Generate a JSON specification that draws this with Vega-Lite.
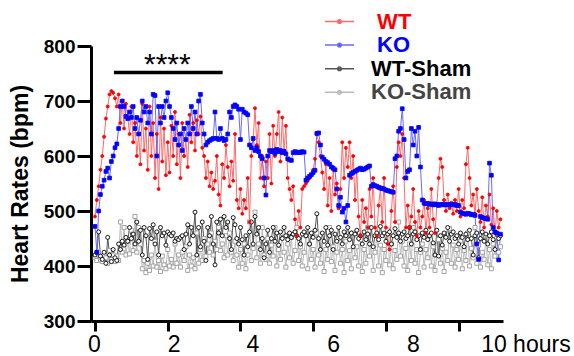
{
"$schema": "https://vega.github.io/schema/vega-lite/v6.json",
"width": 412, "height": 275,
"autosize": {"type": "none"},
"padding": {"left": 91, "top": 46, "right": 71, "bottom": 35},
"config": {"view": {"stroke": null}, "font": "Liberation Sans"},
"datasets": {
"hr": [
{"t":0,"WT":490,"KO":472,"WS":420,"KS":415},
{"t":0.05,"WT":520,"KO":425,"WS":425,"KS":410},
{"t":0.1,"WT":545,"KO":500,"WS":462,"KS":425},
{"t":0.15,"WT":575,"KO":530,"WS":418,"KS":412},
{"t":0.2,"WT":600,"KO":545,"WS":412,"KS":408},
{"t":0.25,"WT":635,"KO":556,"WS":425,"KS":420},
{"t":0.3,"WT":668,"KO":572,"WS":405,"KS":415},
{"t":0.35,"WT":690,"KO":578,"WS":452,"KS":405},
{"t":0.4,"WT":712,"KO":560,"WS":420,"KS":428},
{"t":0.45,"WT":718,"KO":590,"WS":408,"KS":412},
{"t":0.5,"WT":715,"KO":600,"WS":430,"KS":420},
{"t":0.55,"WT":705,"KO":615,"WS":415,"KS":408},
{"t":0.6,"WT":690,"KO":622,"WS":410,"KS":418},
{"t":0.65,"WT":712,"KO":650,"WS":440,"KS":410},
{"t":0.7,"WT":660,"KO":690,"WS":430,"KS":480},
{"t":0.75,"WT":700,"KO":700,"WS":445,"KS":425},
{"t":0.8,"WT":650,"KO":690,"WS":438,"KS":470},
{"t":0.85,"WT":695,"KO":672,"WS":452,"KS":420},
{"t":0.9,"WT":672,"KO":668,"WS":445,"KS":445},
{"t":0.95,"WT":640,"KO":680,"WS":470,"KS":422},
{"t":1.0,"WT":690,"KO":670,"WS":450,"KS":465},
{"t":1.05,"WT":625,"KO":690,"WS":458,"KS":428},
{"t":1.1,"WT":660,"KO":650,"WS":440,"KS":490},
{"t":1.15,"WT":600,"KO":670,"WS":480,"KS":425},
{"t":1.2,"WT":640,"KO":640,"WS":445,"KS":470},
{"t":1.25,"WT":585,"KO":665,"WS":465,"KS":440},
{"t":1.3,"WT":695,"KO":700,"WS":420,"KS":395},
{"t":1.35,"WT":610,"KO":680,"WS":470,"KS":410},
{"t":1.4,"WT":650,"KO":690,"WS":455,"KS":388},
{"t":1.45,"WT":575,"KO":660,"WS":412,"KS":405},
{"t":1.5,"WT":690,"KO":680,"WS":468,"KS":392},
{"t":1.55,"WT":600,"KO":640,"WS":450,"KS":420},
{"t":1.6,"WT":660,"KO":712,"WS":475,"KS":400},
{"t":1.65,"WT":560,"KO":710,"WS":440,"KS":445},
{"t":1.7,"WT":640,"KO":600,"WS":462,"KS":398},
{"t":1.75,"WT":540,"KO":690,"WS":420,"KS":410},
{"t":1.8,"WT":670,"KO":660,"WS":470,"KS":390},
{"t":1.85,"WT":590,"KO":690,"WS":455,"KS":418},
{"t":1.9,"WT":650,"KO":670,"WS":460,"KS":402},
{"t":1.95,"WT":565,"KO":700,"WS":438,"KS":395},
{"t":2.0,"WT":625,"KO":715,"WS":462,"KS":430},
{"t":2.05,"WT":570,"KO":690,"WS":458,"KS":400},
{"t":2.1,"WT":655,"KO":670,"WS":455,"KS":412},
{"t":2.15,"WT":600,"KO":650,"WS":460,"KS":398},
{"t":2.2,"WT":680,"KO":630,"WS":445,"KS":440},
{"t":2.25,"WT":585,"KO":660,"WS":450,"KS":405},
{"t":2.3,"WT":640,"KO":620,"WS":448,"KS":420},
{"t":2.35,"WT":560,"KO":640,"WS":452,"KS":398},
{"t":2.4,"WT":660,"KO":610,"WS":455,"KS":425},
{"t":2.45,"WT":600,"KO":650,"WS":430,"KS":410},
{"t":2.5,"WT":630,"KO":630,"WS":458,"KS":435},
{"t":2.55,"WT":580,"KO":660,"WS":475,"KS":392},
{"t":2.6,"WT":675,"KO":640,"WS":440,"KS":420},
{"t":2.65,"WT":625,"KO":690,"WS":470,"KS":400},
{"t":2.7,"WT":660,"KO":650,"WS":455,"KS":415},
{"t":2.75,"WT":610,"KO":680,"WS":498,"KS":395},
{"t":2.8,"WT":665,"KO":640,"WS":420,"KS":460},
{"t":2.85,"WT":640,"KO":700,"WS":470,"KS":405},
{"t":2.9,"WT":672,"KO":712,"WS":435,"KS":430},
{"t":2.95,"WT":615,"KO":660,"WS":480,"KS":410},
{"t":3.0,"WT":600,"KO":640,"WS":445,"KS":450},
{"t":3.05,"WT":560,"KO":620,"WS":410,"KS":418},
{"t":3.1,"WT":590,"KO":625,"WS":470,"KS":440},
{"t":3.15,"WT":545,"KO":628,"WS":455,"KS":425},
{"t":3.2,"WT":570,"KO":630,"WS":490,"KS":460},
{"t":3.25,"WT":540,"KO":632,"WS":440,"KS":420},
{"t":3.3,"WT":555,"KO":680,"WS":402,"KS":445},
{"t":3.35,"WT":600,"KO":632,"WS":480,"KS":430},
{"t":3.4,"WT":530,"KO":630,"WS":460,"KS":470},
{"t":3.45,"WT":510,"KO":650,"WS":485,"KS":428},
{"t":3.5,"WT":585,"KO":632,"WS":455,"KS":440},
{"t":3.55,"WT":560,"KO":628,"WS":490,"KS":415},
{"t":3.6,"WT":620,"KO":630,"WS":470,"KS":455},
{"t":3.65,"WT":580,"KO":640,"WS":480,"KS":420},
{"t":3.7,"WT":545,"KO":680,"WS":450,"KS":460},
{"t":3.75,"WT":590,"KO":670,"WS":430,"KS":425},
{"t":3.8,"WT":555,"KO":690,"WS":488,"KS":410},
{"t":3.85,"WT":640,"KO":693,"WS":475,"KS":445},
{"t":3.9,"WT":520,"KO":690,"WS":450,"KS":420},
{"t":3.95,"WT":505,"KO":685,"WS":440,"KS":398},
{"t":4.0,"WT":540,"KO":630,"WS":470,"KS":430},
{"t":4.05,"WT":495,"KO":685,"WS":448,"KS":405},
{"t":4.1,"WT":520,"KO":680,"WS":420,"KS":440},
{"t":4.15,"WT":505,"KO":678,"WS":455,"KS":395},
{"t":4.2,"WT":560,"KO":675,"WS":435,"KS":420},
{"t":4.25,"WT":480,"KO":620,"WS":462,"KS":480},
{"t":4.3,"WT":600,"KO":615,"WS":480,"KS":410},
{"t":4.35,"WT":630,"KO":632,"WS":440,"KS":432},
{"t":4.4,"WT":687,"KO":610,"WS":490,"KS":498},
{"t":4.45,"WT":620,"KO":615,"WS":458,"KS":415},
{"t":4.5,"WT":660,"KO":608,"WS":470,"KS":440},
{"t":4.55,"WT":560,"KO":600,"WS":430,"KS":405},
{"t":4.6,"WT":600,"KO":595,"WS":450,"KS":470},
{"t":4.65,"WT":545,"KO":560,"WS":415,"KS":420},
{"t":4.7,"WT":590,"KO":529,"WS":440,"KS":412},
{"t":4.75,"WT":560,"KO":600,"WS":465,"KS":450},
{"t":4.8,"WT":640,"KO":610,"WS":425,"KS":405},
{"t":4.85,"WT":550,"KO":608,"WS":450,"KS":438},
{"t":4.9,"WT":655,"KO":610,"WS":470,"KS":418},
{"t":4.95,"WT":600,"KO":605,"WS":445,"KS":470},
{"t":5.0,"WT":640,"KO":612,"WS":460,"KS":400},
{"t":5.05,"WT":680,"KO":608,"WS":438,"KS":430},
{"t":5.1,"WT":590,"KO":610,"WS":462,"KS":412},
{"t":5.15,"WT":670,"KO":606,"WS":450,"KS":460},
{"t":5.2,"WT":610,"KO":608,"WS":470,"KS":425},
{"t":5.25,"WT":655,"KO":604,"WS":455,"KS":398},
{"t":5.3,"WT":560,"KO":595,"WS":448,"KS":440},
{"t":5.35,"WT":540,"KO":593,"WS":460,"KS":415},
{"t":5.4,"WT":520,"KO":592,"WS":452,"KS":452},
{"t":5.45,"WT":545,"KO":606,"WS":458,"KS":405},
{"t":5.5,"WT":485,"KO":608,"WS":462,"KS":428},
{"t":5.55,"WT":455,"KO":606,"WS":455,"KS":470},
{"t":5.6,"WT":500,"KO":607,"WS":450,"KS":410},
{"t":5.65,"WT":470,"KO":606,"WS":440,"KS":435},
{"t":5.7,"WT":540,"KO":608,"WS":458,"KS":400},
{"t":5.75,"WT":545,"KO":607,"WS":462,"KS":425},
{"t":5.8,"WT":550,"KO":556,"WS":455,"KS":455},
{"t":5.85,"WT":555,"KO":560,"WS":470,"KS":395},
{"t":5.9,"WT":560,"KO":563,"WS":440,"KS":440},
{"t":5.95,"WT":565,"KO":566,"WS":460,"KS":412},
{"t":6.0,"WT":575,"KO":570,"WS":452,"KS":430},
{"t":6.05,"WT":595,"KO":574,"WS":465,"KS":398},
{"t":6.1,"WT":640,"KO":641,"WS":495,"KS":460},
{"t":6.15,"WT":625,"KO":642,"WS":450,"KS":420},
{"t":6.2,"WT":600,"KO":620,"WS":430,"KS":405},
{"t":6.25,"WT":570,"KO":598,"WS":460,"KS":445},
{"t":6.3,"WT":540,"KO":594,"WS":445,"KS":390},
{"t":6.35,"WT":585,"KO":590,"WS":470,"KS":430},
{"t":6.4,"WT":510,"KO":588,"WS":438,"KS":412},
{"t":6.45,"WT":560,"KO":585,"WS":455,"KS":470},
{"t":6.5,"WT":500,"KO":580,"WS":465,"KS":408},
{"t":6.55,"WT":575,"KO":578,"WS":430,"KS":435},
{"t":6.6,"WT":530,"KO":575,"WS":458,"KS":392},
{"t":6.65,"WT":550,"KO":540,"WS":445,"KS":425},
{"t":6.7,"WT":505,"KO":510,"WS":470,"KS":450},
{"t":6.75,"WT":540,"KO":525,"WS":452,"KS":405},
{"t":6.8,"WT":625,"KO":498,"WS":440,"KS":430},
{"t":6.85,"WT":560,"KO":505,"WS":462,"KS":388},
{"t":6.9,"WT":615,"KO":480,"WS":455,"KS":445},
{"t":6.95,"WT":580,"KO":510,"WS":470,"KS":410},
{"t":7.0,"WT":625,"KO":565,"WS":448,"KS":428},
{"t":7.05,"WT":560,"KO":568,"WS":460,"KS":395},
{"t":7.1,"WT":600,"KO":570,"WS":435,"KS":460},
{"t":7.15,"WT":520,"KO":572,"WS":458,"KS":415},
{"t":7.2,"WT":575,"KO":574,"WS":465,"KS":435},
{"t":7.25,"WT":490,"KO":576,"WS":450,"KS":400},
{"t":7.3,"WT":455,"KO":578,"WS":455,"KS":448},
{"t":7.35,"WT":520,"KO":575,"WS":440,"KS":390},
{"t":7.4,"WT":480,"KO":576,"WS":462,"KS":430},
{"t":7.45,"WT":505,"KO":578,"WS":448,"KS":405},
{"t":7.5,"WT":470,"KO":580,"WS":458,"KS":470},
{"t":7.55,"WT":540,"KO":582,"WS":440,"KS":418},
{"t":7.6,"WT":490,"KO":545,"WS":470,"KS":440},
{"t":7.65,"WT":560,"KO":548,"WS":435,"KS":392},
{"t":7.7,"WT":470,"KO":546,"WS":455,"KS":425},
{"t":7.75,"WT":455,"KO":545,"WS":460,"KS":455},
{"t":7.8,"WT":510,"KO":543,"WS":448,"KS":400},
{"t":7.85,"WT":540,"KO":542,"WS":472,"KS":438},
{"t":7.9,"WT":480,"KO":541,"WS":455,"KS":388},
{"t":7.95,"WT":560,"KO":540,"WS":460,"KS":430},
{"t":8.0,"WT":470,"KO":538,"WS":445,"KS":410},
{"t":8.05,"WT":440,"KO":537,"WS":458,"KS":465},
{"t":8.1,"WT":430,"KO":536,"WS":462,"KS":402},
{"t":8.15,"WT":500,"KO":535,"WS":440,"KS":440},
{"t":8.2,"WT":545,"KO":534,"WS":455,"KS":395},
{"t":8.25,"WT":480,"KO":595,"WS":468,"KS":428},
{"t":8.3,"WT":580,"KO":600,"WS":452,"KS":412},
{"t":8.35,"WT":625,"KO":645,"WS":460,"KS":480},
{"t":8.4,"WT":600,"KO":650,"WS":445,"KS":418},
{"t":8.45,"WT":640,"KO":686,"WS":458,"KS":445},
{"t":8.5,"WT":560,"KO":630,"WS":462,"KS":400},
{"t":8.55,"WT":470,"KO":560,"WS":450,"KS":432},
{"t":8.6,"WT":510,"KO":572,"WS":455,"KS":392},
{"t":8.65,"WT":470,"KO":575,"WS":470,"KS":440},
{"t":8.7,"WT":490,"KO":650,"WS":440,"KS":410},
{"t":8.75,"WT":540,"KO":620,"WS":458,"KS":470},
{"t":8.8,"WT":480,"KO":645,"WS":462,"KS":405},
{"t":8.85,"WT":455,"KO":600,"WS":448,"KS":430},
{"t":8.9,"WT":500,"KO":652,"WS":455,"KS":388},
{"t":8.95,"WT":470,"KO":580,"WS":430,"KS":425},
{"t":9.0,"WT":490,"KO":520,"WS":460,"KS":440},
{"t":9.05,"WT":520,"KO":514,"WS":452,"KS":398},
{"t":9.1,"WT":460,"KO":513,"WS":465,"KS":430},
{"t":9.15,"WT":505,"KO":514,"WS":448,"KS":415},
{"t":9.2,"WT":470,"KO":512,"WS":455,"KS":455},
{"t":9.25,"WT":540,"KO":513,"WS":460,"KS":400},
{"t":9.3,"WT":485,"KO":511,"WS":442,"KS":435},
{"t":9.35,"WT":460,"KO":513,"WS":420,"KS":392},
{"t":9.4,"WT":510,"KO":512,"WS":465,"KS":420},
{"t":9.45,"WT":560,"KO":510,"WS":418,"KS":448},
{"t":9.5,"WT":595,"KO":512,"WS":455,"KS":405},
{"t":9.55,"WT":580,"KO":511,"WS":438,"KS":432},
{"t":9.6,"WT":520,"KO":512,"WS":460,"KS":390},
{"t":9.65,"WT":500,"KO":511,"WS":452,"KS":425},
{"t":9.7,"WT":530,"KO":512,"WS":470,"KS":410},
{"t":9.75,"WT":505,"KO":511,"WS":445,"KS":468},
{"t":9.8,"WT":515,"KO":512,"WS":458,"KS":405},
{"t":9.85,"WT":495,"KO":511,"WS":462,"KS":438},
{"t":9.9,"WT":520,"KO":512,"WS":450,"KS":398},
{"t":9.95,"WT":500,"KO":510,"WS":455,"KS":430},
{"t":10.0,"WT":540,"KO":510,"WS":440,"KS":412},
{"t":10.05,"WT":490,"KO":498,"WS":460,"KS":445},
{"t":10.1,"WT":520,"KO":496,"WS":452,"KS":395},
{"t":10.15,"WT":505,"KO":495,"WS":435,"KS":428},
{"t":10.2,"WT":585,"KO":494,"WS":458,"KS":410},
{"t":10.25,"WT":615,"KO":496,"WS":448,"KS":460},
{"t":10.3,"WT":560,"KO":495,"WS":465,"KS":400},
{"t":10.35,"WT":510,"KO":493,"WS":450,"KS":432},
{"t":10.4,"WT":530,"KO":494,"WS":420,"KS":415},
{"t":10.45,"WT":495,"KO":492,"WS":455,"KS":470},
{"t":10.5,"WT":540,"KO":440,"WS":460,"KS":405},
{"t":10.55,"WT":500,"KO":412,"WS":415,"KS":438},
{"t":10.6,"WT":480,"KO":490,"WS":450,"KS":398},
{"t":10.65,"WT":525,"KO":488,"WS":462,"KS":425},
{"t":10.7,"WT":470,"KO":487,"WS":445,"KS":412},
{"t":10.75,"WT":510,"KO":486,"WS":458,"KS":455},
{"t":10.8,"WT":490,"KO":485,"WS":440,"KS":402},
{"t":10.85,"WT":530,"KO":587,"WS":455,"KS":430},
{"t":10.9,"WT":475,"KO":565,"WS":462,"KS":395},
{"t":10.95,"WT":505,"KO":470,"WS":448,"KS":440},
{"t":11.0,"WT":460,"KO":462,"WS":430,"KS":418},
{"t":11.05,"WT":500,"KO":460,"WS":458,"KS":450},
{"t":11.1,"WT":470,"KO":411,"WS":450,"KS":425},
{"t":11.15,"WT":485,"KO":458,"WS":455,"KS":435}
],
"bar": [{"t1": 0.52, "t2": 3.51, "y": 752}],
"stars": [{"t": 1.99, "y": 750, "label": "****"}]
},
"layer": [
{
"data": {"name": "hr"},
"transform": [{"fold": ["KS", "WS", "WT", "KO"], "as": ["series", "bpm"]}],
"mark": {"type": "line", "strokeWidth": 1},
"encoding": {
"x": {"field": "t", "type": "quantitative",
"scale": {"domain": [-0.11, 11.22], "nice": false, "zero": false},
"axis": {"values": [0, 2, 4, 6, 8, 10], "title": null, "grid": false,
"labelFont": "Liberation Sans", "labelFontSize": 23, "labelColor": "#000000",
"labelFlush": false, "labelOverlap": false, "labelBound": false, "labelPadding": 2,
"labelExpr": "datum.value == 10 ? '10 hours' : datum.label",
"labelOffset": {"condition": [{"test": "datum.value == 2", "value": 6}, {"test": "datum.value == 4", "value": 12}, {"test": "datum.value == 6", "value": 20}, {"test": "datum.value == 8", "value": 27}, {"test": "datum.value == 10", "value": 22}], "value": -1},
"labelAlign": {"condition": {"test": "datum.value == 10", "value": "left"}, "value": "center"},
"tickSize": 10, "tickWidth": 3, "tickColor": "#000000",
"domainWidth": 3, "domainColor": "#000000"}},
"y": {"field": "bpm", "type": "quantitative",
"scale": {"domain": [300, 800], "nice": false, "zero": false},
"axis": {"values": [300, 400, 500, 600, 700, 800], "title": "Heart Rates (bpm)", "grid": false,
"titleFont": "Liberation Sans", "titleFontSize": 23, "titleFontWeight": "bold", "titleColor": "#000000", "titlePadding": 11,
"labelFont": "Liberation Sans", "labelFontSize": 19, "labelFontWeight": "bold", "labelColor": "#000000", "labelPadding": 2,
"tickSize": 14, "tickWidth": 3, "tickColor": "#000000",
"domainWidth": 3, "domainColor": "#000000"}},
"color": {"field": "series", "type": "nominal",
"scale": {"domain": ["WT", "KO", "WS", "KS"], "range": ["#ff6a6a", "#6a6aff", "#555555", "#bbbbbb"]},
"legend": {"orient": "none", "legendX": 237.5, "legendY": -35.5, "title": null, "padding": 0,
"symbolType": "M-1.45,0L1.45,0M-0.18,0A0.18,0.18,0,1,0,0.18,0A0.18,0.18,0,1,0,-0.18,0",
"symbolSize": 400, "symbolStrokeWidth": 1.5,
"symbolFillColor": {"expr": "datum.value == 'WT' ? '#ff0000' : datum.value == 'KO' ? '#0000ff' : '#ffffff'"},
"labelFont": "Liberation Sans", "labelFontSize": 22, "labelFontWeight": "bold",
"labelExpr": "datum.value == 'WT' ? '\u200b\u00a0WT' : datum.value == 'KO' ? '\u200b\u00a0KO' : datum.value == 'WS' ? 'WT-Sham' : 'KO-Sham'",
"labelColor": {"expr": "datum.value == 'WT' ? '#ff0000' : datum.value == 'KO' ? '#0000ff' : datum.value == 'WS' ? '#000000' : '#444444'"},
"labelOffset": 20.5, "rowPadding": 1.6}
}
}
},
{
"data": {"name": "hr"},
"transform": [{"fold": ["KS"], "as": ["series", "bpm"]}],
"mark": {"type": "point", "shape": "square", "filled": true, "fill": "#ffffff", "stroke": "#999999", "size": 16, "strokeWidth": 0.9, "opacity": 1},
"encoding": {
"x": {"field": "t", "type": "quantitative"},
"y": {"field": "bpm", "type": "quantitative"}
}
},
{
"data": {"name": "hr"},
"transform": [{"fold": ["WS"], "as": ["series", "bpm"]}],
"mark": {"type": "point", "shape": "circle", "filled": true, "fill": "#ffffff", "stroke": "#000000", "size": 16, "strokeWidth": 0.9, "opacity": 1},
"encoding": {
"x": {"field": "t", "type": "quantitative"},
"y": {"field": "bpm", "type": "quantitative"}
}
},
{
"data": {"name": "hr"},
"transform": [{"fold": ["WT"], "as": ["series", "bpm"]}],
"mark": {"type": "point", "shape": "circle", "filled": true, "fill": "#ff0000", "stroke": "#ff0000", "size": 9, "strokeWidth": 0.8, "opacity": 1},
"encoding": {
"x": {"field": "t", "type": "quantitative"},
"y": {"field": "bpm", "type": "quantitative"}
}
},
{
"data": {"name": "hr"},
"transform": [{"fold": ["KO"], "as": ["series", "bpm"]}],
"mark": {"type": "point", "shape": "square", "filled": true, "fill": "#0000ff", "stroke": "#0000ff", "size": 14, "strokeWidth": 0.8, "opacity": 1},
"encoding": {
"x": {"field": "t", "type": "quantitative"},
"y": {"field": "bpm", "type": "quantitative"}
}
},
{
"data": {"name": "bar"},
"mark": {"type": "rule", "strokeWidth": 3.5, "color": "#000000"},
"encoding": {
"x": {"field": "t1", "type": "quantitative"},
"x2": {"field": "t2"},
"y": {"field": "y", "type": "quantitative"}
}
},
{
"data": {"name": "stars"},
"mark": {"type": "text", "font": "Liberation Sans", "fontSize": 30, "align": "center", "baseline": "alphabetic", "color": "#000000"},
"encoding": {
"x": {"field": "t", "type": "quantitative"},
"y": {"field": "y", "type": "quantitative"},
"text": {"field": "label"}
}
}
]
}
